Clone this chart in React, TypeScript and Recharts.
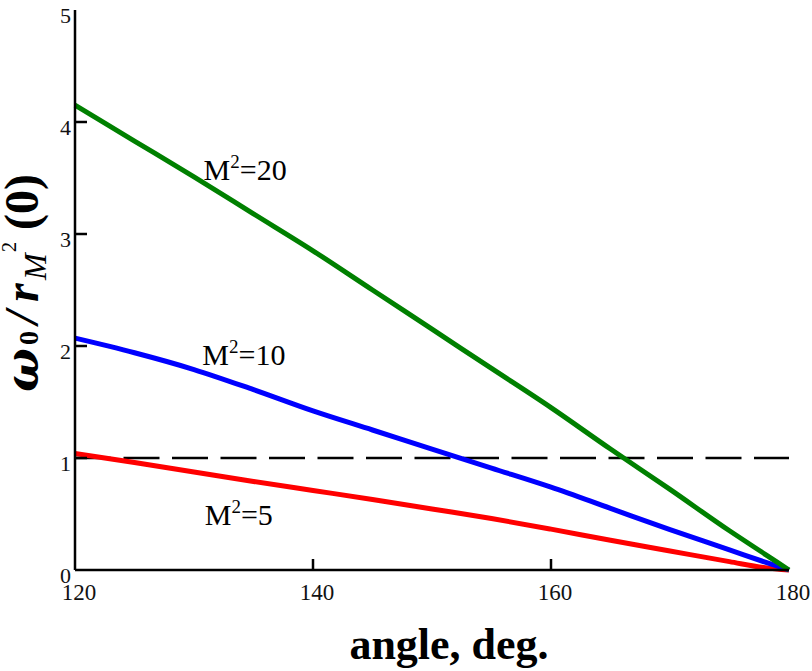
import { LineChart, Line, XAxis, YAxis, ReferenceLine, ReferenceDot, Label } from 'recharts';

const angles = [120, 125, 130, 135, 140, 145, 150, 155, 160, 165, 170, 175, 178, 180];
const m20 = [4.15, 3.83, 3.51, 3.18, 2.85, 2.5, 2.15, 1.8, 1.45, 1.08, 0.72, 0.35, 0.14, 0];
const m10 = [2.07, 1.94, 1.79, 1.61, 1.42, 1.25, 1.08, 0.91, 0.74, 0.55, 0.36, 0.18, 0.07, 0];
const m5 = [1.04, 0.96, 0.875, 0.79, 0.71, 0.63, 0.545, 0.46, 0.365, 0.265, 0.17, 0.075, 0.02, 0];
const xTicks = [120, 140, 160, 180];
const yTicks = [0, 1, 2, 3, 4, 5];

const data = angles.map((a, i) => ({ angle: a, m20: m20[i], m10: m10[i], m5: m5[i] }));

const serif = '"Liberation Serif", "Times New Roman", serif';

const XTick = ({ x, y, payload }: any) => (
  <g>
    {payload.value > 120 && payload.value < 180 && (
      <line x1={x} x2={x} y1={y} y2={y - 11} stroke="#000" strokeWidth={2.5} />
    )}
    <text x={x + 4} y={y + 30} textAnchor="middle" fontSize={23} fontFamily={serif} fill="#111">
      {payload.value}
    </text>
  </g>
);

const YTick = ({ x, y, payload }: any) => (
  <g>
    {payload.value > 0 && payload.value < 5 && (
      <line x1={x} x2={x + 12} y1={y} y2={y} stroke="#000" strokeWidth={2.5} />
    )}
    <text x={x - 4} y={y + 13} textAnchor="end" fontSize={22} fontFamily={serif} fill="#111">
      {payload.value}
    </text>
  </g>
);

const XTitle = ({ viewBox }: any) => (
  <text
    x={viewBox.x + viewBox.width / 2 + 17}
    y={viewBox.y + 89}
    textAnchor="middle"
    fontSize={44}
    fontWeight="bold"
    fontFamily={serif}
    fill="#000"
  >
    angle, deg.
  </text>
);

// rotated title; local x runs up the page from the bottom of the omega
const YTitle = ({ viewBox }: any) => {
  const cx = viewBox.x + 38;
  const cy = 392;
  return (
    <g transform={`rotate(-90, ${cx}, ${cy})`}>
      <text y={cy} fontFamily={serif} fontWeight="bold" fontStyle="italic" fontSize={48} fill="#000">
        <tspan x={cx} fontSize={46} fontFamily='"DejaVu Serif", serif'>ω</tspan>
        <tspan x={cx + 47} fontSize={28} fontStyle="normal">0</tspan>
        <tspan x={cx + 68}>/</tspan>
        <tspan x={cx + 90}>r</tspan>
        <tspan x={cx + 112} fontSize={32} fontWeight="normal" dy={8}>M</tspan>
        <tspan x={cx + 140} fontSize={20} fontWeight="normal" fontStyle="normal" dy={-30}>2</tspan>
        <tspan x={cx + 162} fontStyle="normal" dy={22}>(0)</tspan>
      </text>
    </g>
  );
};

const CurveLabel = ({ text, viewBox }: any) => (
  <text x={viewBox.x} y={viewBox.y} fontSize={30} fontFamily={serif} fill="#000">
    <tspan>M</tspan>
    <tspan fontSize={19} dy={-12}>2</tspan>
    <tspan dy={12}>={text}</tspan>
  </text>
);

export default function App() {
  return (
    <div>
      <style>{'body { margin: 0; overflow: hidden; }'}</style>
      <LineChart width={812} height={671} data={data} margin={{ top: 10, right: 23, bottom: 0, left: 0 }}>
        <XAxis
          dataKey="angle"
          type="number"
          domain={[120, 180]}
          ticks={xTicks}
          height={101}
          tickSize={0}
          tickMargin={0}
          tickLine={false}
          tick={<XTick />}
          axisLine={{ stroke: '#000', strokeWidth: 2.5 }}
          interval={0}
        >
          <Label content={<XTitle />} />
        </XAxis>
        <XAxis xAxisId="top" orientation="top" type="number" domain={[120, 180]} height={0} tick={false} tickLine={false} axisLine={{ stroke: '#000', strokeWidth: 2.5 }} />
        <YAxis
          type="number"
          domain={[0, 5]}
          ticks={yTicks}
          width={75}
          tickSize={0}
          tickMargin={0}
          tickLine={false}
          tick={<YTick />}
          axisLine={{ stroke: '#000', strokeWidth: 2.5 }}
          interval={0}
        >
          <Label content={<YTitle />} />
        </YAxis>
        <YAxis yAxisId="right" orientation="right" type="number" domain={[0, 5]} width={0} tick={false} tickLine={false} axisLine={{ stroke: '#000', strokeWidth: 2.5 }} />
        <ReferenceLine y={1} stroke="#000" strokeWidth={2.5} strokeDasharray="36 12.5" />
        <Line type="monotone" dataKey="m5" stroke="#ff0000" strokeWidth={5} dot={false} isAnimationActive={false} />
        <Line type="monotone" dataKey="m10" stroke="#0000ff" strokeWidth={5} dot={false} isAnimationActive={false} />
        <Line type="monotone" dataKey="m20" stroke="#008000" strokeWidth={5} dot={false} isAnimationActive={false} />
        <ReferenceDot x={130.8} y={3.48} r={0} label={<CurveLabel text="20" />} />
        <ReferenceDot x={130.7} y={1.83} r={0} label={<CurveLabel text="10" />} />
        <ReferenceDot x={130.9} y={0.4} r={0} label={<CurveLabel text="5" />} />
      </LineChart>
    </div>
  );
}
